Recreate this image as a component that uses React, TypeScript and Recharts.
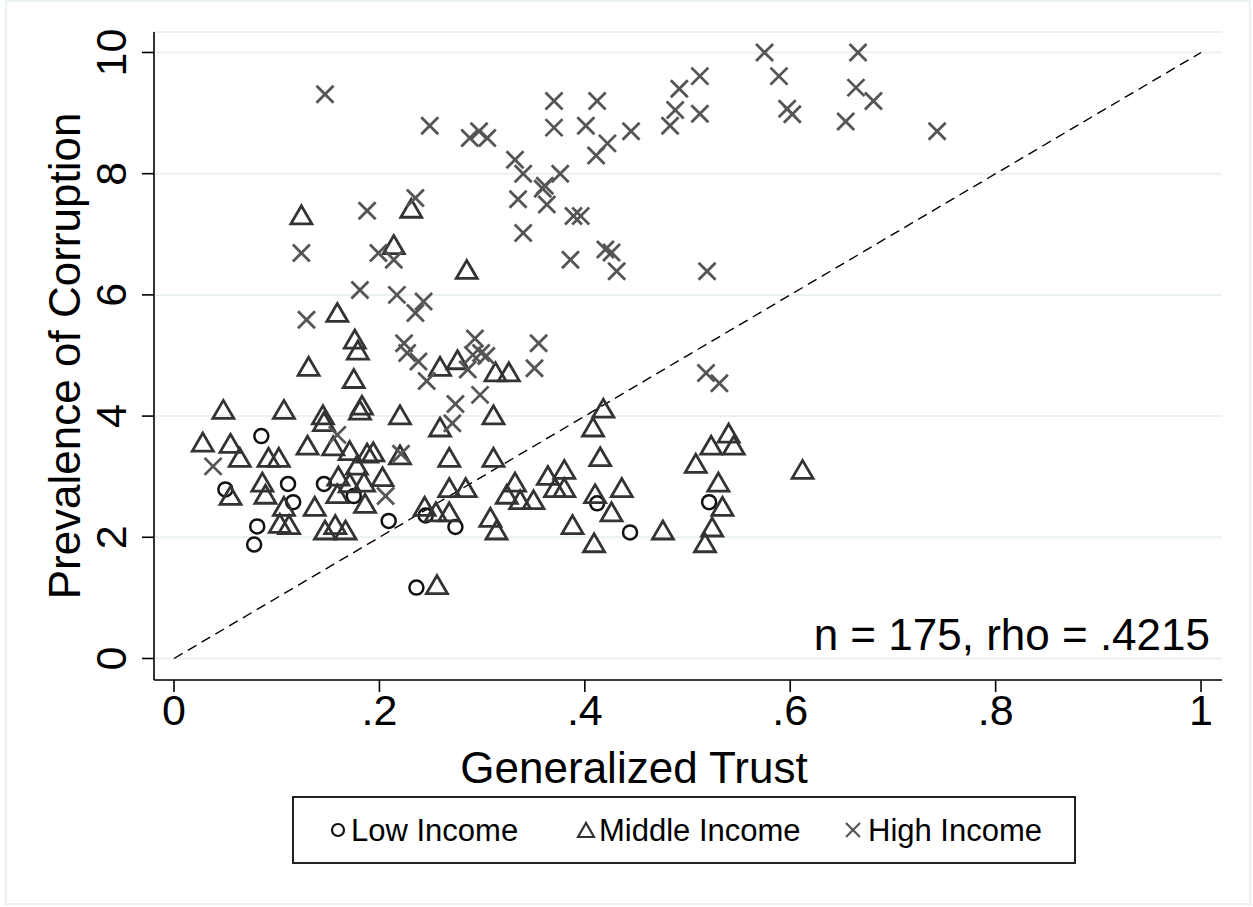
import React from 'react';
import { ScatterChart, Scatter, XAxis, YAxis, CartesianGrid, ReferenceLine } from 'recharts';

const FONT = '"Liberation Sans", Arial, Helvetica, sans-serif';

// Tick values and labels
const xTicks = [0, 0.2, 0.4, 0.6, 0.8, 1];
const xTickLabels = ['0', '.2', '.4', '.6', '.8', '1'];
const yTicks = [0, 2, 4, 6, 8, 10];
const yTickLabels = ['0', '2', '4', '6', '8', '10'];

const seriesNames = ['Low Income', 'Middle Income', 'High Income'];
const xTitle = 'Generalized Trust';
const yTitle = 'Prevalence of Corruption';
const note = 'n = 175, rho = .4215';

// Low income [trust, corruption]
const lowIncome: [number, number][] = [
  [0.050, 2.79], [0.085, 3.67], [0.081, 2.18], [0.078, 1.88], [0.111, 2.88],
  [0.116, 2.58], [0.146, 2.88], [0.175, 2.68], [0.209, 2.27], [0.245, 2.36],
  [0.274, 2.17], [0.236, 1.17], [0.412, 2.56], [0.444, 2.08], [0.521, 2.58],
];

// Middle income
const middleIncome: [number, number][] = [
  [0.048, 4.11], [0.107, 4.11], [0.145, 4.02], [0.146, 3.91], [0.183, 4.18],
  [0.181, 4.10], [0.028, 3.57], [0.055, 3.55], [0.064, 3.32], [0.092, 3.32],
  [0.102, 3.32], [0.130, 3.52], [0.155, 3.51], [0.171, 3.43], [0.178, 3.19],
  [0.160, 3.01], [0.171, 2.90], [0.185, 2.91], [0.159, 2.72], [0.186, 2.56],
  [0.086, 2.91], [0.089, 2.71], [0.055, 2.69], [0.107, 2.51], [0.137, 2.51],
  [0.103, 2.23], [0.112, 2.21], [0.147, 2.12], [0.157, 2.21], [0.167, 2.12],
  [0.188, 3.39], [0.124, 7.32], [0.159, 5.71], [0.176, 5.27], [0.179, 5.09],
  [0.131, 4.82], [0.175, 4.62], [0.231, 7.43], [0.214, 6.83], [0.285, 6.42],
  [0.259, 4.82], [0.276, 4.93], [0.313, 4.73], [0.326, 4.73], [0.220, 4.02],
  [0.311, 4.02], [0.259, 3.82], [0.194, 3.41], [0.220, 3.36], [0.268, 3.32],
  [0.311, 3.32], [0.203, 3.00], [0.268, 2.82], [0.284, 2.82], [0.244, 2.51],
  [0.255, 2.42], [0.268, 2.42], [0.332, 2.91], [0.324, 2.71], [0.337, 2.62],
  [0.350, 2.62], [0.364, 3.02], [0.380, 3.12], [0.371, 2.82], [0.380, 2.82],
  [0.308, 2.33], [0.314, 2.12], [0.388, 2.21], [0.256, 1.22], [0.418, 4.13],
  [0.408, 3.82], [0.415, 3.33], [0.410, 2.72], [0.436, 2.82], [0.426, 2.42],
  [0.409, 1.91], [0.476, 2.12], [0.540, 3.72], [0.523, 3.52], [0.545, 3.52],
  [0.508, 3.22], [0.530, 2.91], [0.534, 2.51], [0.524, 2.17], [0.517, 1.91],
  [0.612, 3.12],
];

// High income
const highIncome: [number, number][] = [
  [0.038, 3.17], [0.159, 3.69], [0.246, 4.58], [0.274, 4.20], [0.271, 3.88],
  [0.298, 4.35], [0.221, 3.38], [0.206, 2.68], [0.224, 5.20], [0.227, 5.04],
  [0.238, 4.90], [0.293, 5.28], [0.291, 5.01], [0.299, 5.04], [0.304, 4.99],
  [0.286, 4.77], [0.355, 5.20], [0.351, 4.79], [0.188, 7.39], [0.235, 7.60],
  [0.199, 6.69], [0.214, 6.58], [0.181, 6.08], [0.217, 6.00], [0.243, 5.89],
  [0.235, 5.70], [0.335, 7.58], [0.359, 7.75], [0.363, 7.49], [0.340, 8.00],
  [0.332, 8.23], [0.361, 7.80], [0.376, 8.00], [0.340, 7.02], [0.386, 6.58],
  [0.389, 7.30], [0.396, 7.30], [0.249, 8.79], [0.288, 8.59], [0.297, 8.70],
  [0.305, 8.59], [0.370, 9.20], [0.370, 8.76], [0.401, 8.79], [0.412, 9.20],
  [0.422, 8.50], [0.411, 8.30], [0.445, 8.70], [0.483, 8.79], [0.488, 9.05],
  [0.492, 9.40], [0.512, 9.61], [0.512, 8.99], [0.575, 10.0], [0.589, 9.61],
  [0.597, 9.07], [0.602, 8.98], [0.666, 10.0], [0.664, 9.42], [0.681, 9.20],
  [0.654, 8.86], [0.743, 8.70], [0.420, 6.75], [0.426, 6.70], [0.431, 6.39],
  [0.519, 6.39], [0.518, 4.71], [0.531, 4.54], [0.124, 6.69], [0.129, 5.59],
  [0.147, 9.31],
];

const toPts = (arr: [number, number][]) => arr.map(([x, y]) => ({ x, y }));

const CircleMark = (p: any) => (
  <circle cx={p.cx} cy={p.cy} r={7} fill="none" stroke="#111" strokeWidth={2.5} />
);
const TriMark = (p: any) => {
  const { cx, cy } = p;
  const w = 10.5, h = 9;
  return (
    <polygon
      points={`${cx - w},${cy + h} ${cx + w},${cy + h} ${cx},${cy - h}`}
      fill="none" stroke="#333" strokeWidth={2.8} strokeLinejoin="miter"
    />
  );
};
const XMark = (p: any) => {
  const { cx, cy } = p;
  const s = 8.5;
  return (
    <g stroke="#555" strokeWidth={2.8}>
      <line x1={cx - s} y1={cy - s} x2={cx + s} y2={cy + s} />
      <line x1={cx - s} y1={cy + s} x2={cx + s} y2={cy - s} />
    </g>
  );
};

const XTick = (p: any) => {
  const i = xTicks.indexOf(p.payload.value);
  return (
    <text x={p.x} y={p.y} dy={31} textAnchor="middle" fontSize={43} fontFamily={FONT} fill="#000">
      {xTickLabels[i]}
    </text>
  );
};
const YTick = (p: any) => {
  const i = yTicks.indexOf(p.payload.value);
  const x = p.x - 14;
  return (
    <text x={x} y={p.y} transform={`rotate(-90 ${x} ${p.y})`} textAnchor="middle" fontSize={43} fontFamily={FONT} fill="#000">
      {yTickLabels[i]}
    </text>
  );
};

export default function App() {
  return (
    <div style={{ position: 'absolute', left: 0, top: 0, width: 1253, height: 907, background: '#fff', fontFamily: FONT }}>
      <ScatterChart width={1253} height={907} margin={{ top: 32, right: 31, bottom: 0, left: 0 }}>
        <CartesianGrid vertical={false} stroke="#eaf1f2" strokeWidth={2} />
        <XAxis
          type="number" dataKey="x" domain={[-0.0195, 1.0204]} ticks={xTicks} allowDataOverflow
          height={227} tickSize={12} tickMargin={2}
          axisLine={{ stroke: '#000', strokeWidth: 1.6 }} tickLine={{ stroke: '#000', strokeWidth: 1.6 }}
          tick={<XTick />} interval={0}
        />
        <YAxis
          type="number" dataKey="y" domain={[-0.355, 10.338]} ticks={yTicks} allowDataOverflow
          width={154} tickSize={12} tickMargin={2}
          axisLine={{ stroke: '#000', strokeWidth: 1.6 }} tickLine={{ stroke: '#000', strokeWidth: 1.6 }}
          tick={<YTick />} interval={0}
        />
        <ReferenceLine
          segment={[{ x: 0, y: 0 }, { x: 1, y: 10 }]}
          stroke="#000" strokeWidth={1.4} strokeDasharray="10 6" ifOverflow="visible"
        />
        <Scatter name={seriesNames[0]} data={toPts(lowIncome)} shape={CircleMark} isAnimationActive={false} />
        <Scatter name={seriesNames[1]} data={toPts(middleIncome)} shape={TriMark} isAnimationActive={false} />
        <Scatter name={seriesNames[2]} data={toPts(highIncome)} shape={XMark} isAnimationActive={false} />
      </ScatterChart>
      <svg width={1253} height={907} style={{ position: 'absolute', left: 0, top: 0, pointerEvents: 'none' }}>
        <rect x={6} y={1} width={1244} height={903} fill="none" stroke="#e8f0f1" strokeWidth={2} />
        <text x={1210} y={650} textAnchor="end" fontSize={44} fontFamily={FONT} fill="#000">{note}</text>
        <text x={634} y={783} textAnchor="middle" fontSize={44} fontFamily={FONT} fill="#000">{xTitle}</text>
        <text x={80} y={356} textAnchor="middle" fontSize={44} fontFamily={FONT} fill="#000" transform="rotate(-90 80 356)">{yTitle}</text>
        <rect x={293} y={797} width={782} height={66} fill="#fff" stroke="#222" strokeWidth={2} />
        <circle cx={338} cy={830} r={6} fill="none" stroke="#111" strokeWidth={2.2} />
        <text x={351} y={841} fontSize={31} fontFamily={FONT} fill="#000">{seriesNames[0]}</text>
        <polygon points="578,837 594,837 586,823" fill="none" stroke="#333" strokeWidth={2.2} />
        <text x={599} y={841} fontSize={31} fontFamily={FONT} fill="#000">{seriesNames[1]}</text>
        <g stroke="#555" strokeWidth={2.2}>
          <line x1={846} y1={823} x2={860} y2={837} />
          <line x1={846} y1={837} x2={860} y2={823} />
        </g>
        <text x={868} y={841} fontSize={31} fontFamily={FONT} fill="#000">{seriesNames[2]}</text>
      </svg>
    </div>
  );
}
